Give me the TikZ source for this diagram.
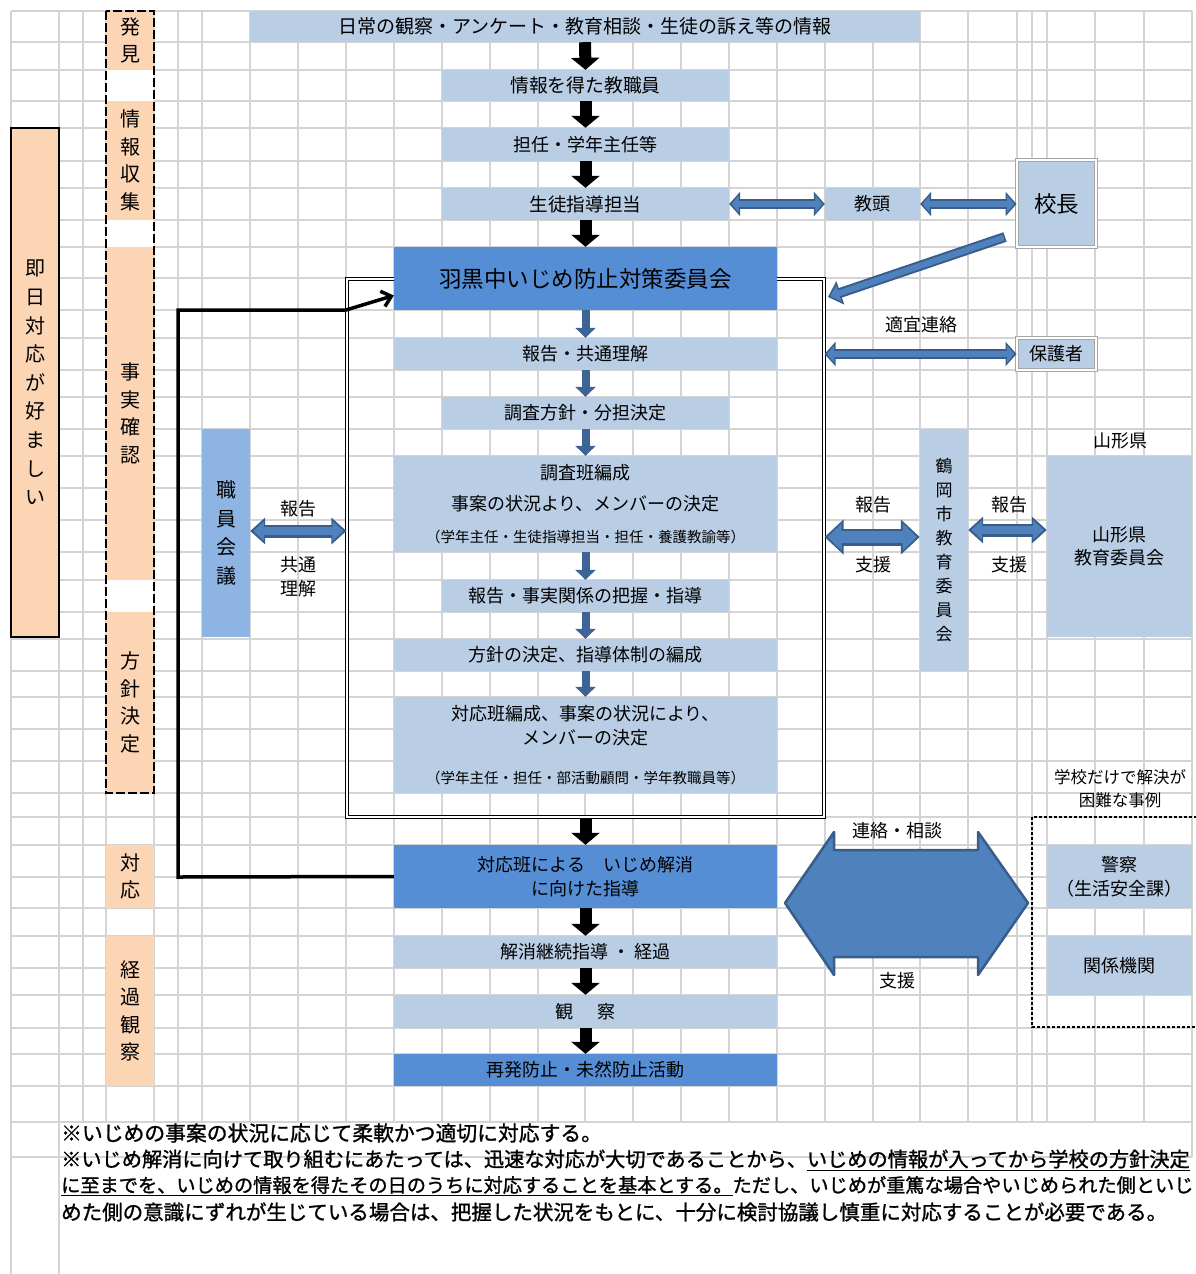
\documentclass[tikz,border=0pt]{standalone}
\usepackage{fontspec}
\setmainfont{Noto Sans CJK JP}
\newfontfamily\notefont{Noto Sans CJK JP}[FakeBold=1.2]
\usetikzlibrary{arrows.meta}
\definecolor{gridgray}{HTML}{D4D4D4}
\definecolor{lightbl}{HTML}{B9CDE5}
\definecolor{midbl}{HTML}{558ED5}
\definecolor{staffbl}{HTML}{8DB4E2}
\definecolor{peach}{HTML}{FCD5B5}
\definecolor{arrfill}{HTML}{4F81BD}
\definecolor{arredge}{HTML}{385D8A}
\definecolor{flowbl}{HTML}{3C6497}
\definecolor{framegray}{HTML}{A6A6A6}
\newcommand{\fsz}[2]{\fontsize{#1}{#2}\selectfont}
\tikzset{
  gridline/.style={draw=gridgray, line width=1.6pt},
  lbox/.style={fill=lightbl, inner sep=0pt, align=center},
  mbox/.style={fill=midbl, inner sep=0pt, align=center},
  wbox/.style={minimum width=383pt},
  nbox/.style={minimum width=287pt},
  stage/.style={fill=peach, minimum width=48pt, inner sep=0pt, align=center, font=\fsz{20}{27.5}},
  grayframe/.style={fill=lightbl, draw=framegray, line width=1pt, double=white, double distance=1.2pt, inner sep=0pt},
  dblframe/.style={draw=black, line width=1.2pt, double=white, double distance=2.4pt, inner sep=0pt},
  note/.style={inner sep=0pt, anchor=west},
  downarr/.style={draw=black, line width=12pt, -{Triangle[length=12pt,width=28pt]}},
  flowarr/.style={draw=flowbl, line width=8pt, -{Triangle[length=10pt,width=20pt]}},
  dblarr/.style={draw=arredge, line width=10pt, {Triangle[length=11pt,width=24pt]}-{Triangle[length=11pt,width=24pt]},
    postaction={draw=arrfill, line width=6pt, {Triangle[length=7pt,width=17pt]}-{Triangle[length=7pt,width=17pt]}, shorten <=2.5pt, shorten >=2.5pt}},
  dblarrm/.style={draw=arredge, line width=13pt, {Triangle[length=15pt,width=26pt]}-{Triangle[length=15pt,width=26pt]},
    postaction={draw=arrfill, line width=8pt, {Triangle[length=11pt,width=19pt]}-{Triangle[length=11pt,width=19pt]}, shorten <=3pt, shorten >=3pt}},
  dblarrw/.style={draw=arredge, line width=17pt, {Triangle[length=19pt,width=34pt]}-{Triangle[length=19pt,width=34pt]},
    postaction={draw=arrfill, line width=12pt, {Triangle[length=14pt,width=26pt]}-{Triangle[length=14pt,width=26pt]}, shorten <=3pt, shorten >=3pt}},
  sglarr/.style={draw=arredge, line width=10pt, -{Triangle[length=13pt,width=24pt]},
    postaction={draw=arrfill, line width=6pt, -{Triangle[length=9pt,width=17pt]}, shorten >=2.5pt, shorten <=1.5pt}},
  bigarr/.style={fill=arrfill, draw=arredge, line width=2.5pt, line join=round}
}
\begin{document}
\begin{tikzpicture}[x=1pt, y=-1pt, font=\fsz{18}{24}]
\useasboundingbox (0,0) rectangle (1196,1274);
\foreach \gx in {83,106,154,178,202,250,298,346,394,442,490,538,585,633,681,729,777,825,873,920,968,1017,1032,1047,1095,1144}
  \draw[gridline] (\gx,11) -- (\gx,1122);
\foreach \gx in {11,59}
  \draw[gridline] (\gx,11) -- (\gx,1274);
\draw[gridline] (1192,11) -- (1192,1157);
\foreach \gy in {11,42,70,101,128,161,188,220,247,278,310,338,370,397,429,456,488,520,552,580,612,639,671,697,729,761,793,817,845,877,908,936,968,995,1028,1054,1086,1122,1157}
  \draw[gridline] (11,\gy) -- (1192,\gy);

\node[draw, line width=1.5pt, fill=peach, minimum width=48pt, minimum height=509pt, inner sep=0pt, align=center, font=\fsz{20}{28.6}] (sameday) at (35,382.5) {即\\日\\対\\応\\が\\好\\ま\\し\\い};
\fill[white] (106,11) rectangle (154,793);
\node[stage, minimum height=59pt] (find) at (130,40.5) {発\\見};
\node[stage, minimum height=119pt] (collect) at (130,160.5) {情\\報\\収\\集};
\node[stage, minimum height=333pt] (confirm) at (130,413.5) {事\\実\\確\\認};
\node[stage, minimum height=181pt] (decide) at (130,702.5) {方\\針\\決\\定};
\draw[line width=2.5pt, dash pattern=on 9pt off 3pt] (106,11) rectangle (154,793);
\node[stage, minimum height=63pt] (respond) at (130,876.5) {対\\応};
\node[stage, minimum height=150pt] (observe) at (130,1011) {経\\過\\観\\察};

\node[dblframe, minimum width=477pt, minimum height=538pt] (frame) at (585.5,548) {};

\node[lbox, minimum width=670pt, minimum height=31pt, font=\fsz{19}{24}] (info) at (585,26.5) {日常の観察・アンケート・教育相談・生徒の訴え等の情報};
\node[lbox, nbox, minimum height=31pt, font=\fsz{18.8}{24}] (teacher) at (585.5,85.5) {情報を得た教職員};
\node[lbox, nbox, minimum height=33pt] (homeroom) at (585.5,144.5) {担任・学年主任等};
\node[lbox, nbox, minimum height=32pt, font=\fsz{18.6}{24}] (guidance) at (585.5,204) {生徒指導担当};
\node[lbox, minimum width=95pt, minimum height=32pt] (vice) at (872.5,204) {教頭};
\node[grayframe, minimum width=79pt, minimum height=87pt, font=\fsz{22.5}{26}] (principal) at (1056.5,203.5) {校長};
\node[mbox, wbox, minimum height=63pt, font=\fsz{22.5}{26}] (committee) at (585.5,278.5) {羽黒中いじめ防止対策委員会};
\node[lbox, wbox, minimum height=32pt] (report) at (585.5,354) {報告・共通理解};
\node[lbox, nbox, minimum height=32pt] (plan) at (585.5,413) {調査方針・分担決定};
\node[lbox, wbox, minimum height=96pt, font=\fsz{18}{31.5}] (survey) at (585.5,504) {調査班編成\\事案の状況より、メンバーの決定\\{\fsz{14.5}{31}（学年主任・生徒指導担当・担任・養護教諭等）}};
\node[lbox, nbox, minimum height=32pt] (facts) at (585.5,596) {報告・事実関係の把握・指導};
\node[lbox, wbox, minimum height=32pt] (policy) at (585.5,655) {方針の決定、指導体制の編成};
\node[lbox, wbox, minimum height=96pt] (team) at (585.5,745) {対応班編成、事案の状況により、\\メンバーの決定\\[15pt]{\fsz{14.5}{24}（学年主任・担任・部活動顧問・学年教職員等）}};
\node[mbox, wbox, minimum height=63pt] (action) at (585.5,876.5) {対応班による　いじめ解消\\に向けた指導};
\node[lbox, wbox, minimum height=32pt] (follow) at (585.5,952) {解消継続指導 ・ 経過};
\node[lbox, wbox, minimum height=33pt] (watch) at (585.5,1011.5) {観\hspace{1.3em}察};
\node[mbox, wbox, minimum height=32pt] (prevent) at (585.5,1070) {再発防止・未然防止活動};

\node[fill=staffbl, minimum width=48pt, minimum height=208pt, inner sep=0pt, align=center, font=\fsz{20}{28.7}] (staff) at (226,533) {職\\員\\会\\議};
\node[lbox, minimum width=48pt, minimum height=242pt, font=\fsz{17}{23.9}] (city) at (944,550) {鶴\\岡\\市\\教\\育\\委\\員\\会};
\node (preflabel) at (1120,441) {山形県};
\node[lbox, minimum width=145pt, minimum height=181pt, font=\fsz{18}{23}] (pref) at (1119.5,546.5) {山形県\\教育委員会};
\node[grayframe, minimum width=79pt, minimum height=32pt] (parent) at (1056.5,354) {保護者};
\node[align=center, font=\fsz{16.5}{23}] (hardcase) at (1120,788.5) {学校だけで解決が\\困難な事例};
\node[lbox, minimum width=145pt, minimum height=63pt] (police) at (1119.5,876.5) {警察\\（生活安全課）};
\node[lbox, minimum width=145pt, minimum height=59pt] (agency) at (1119.5,965.5) {関係機関};
\draw[line width=1.5pt, densely dashed] (1032,817) rectangle (1202,1027);

\foreach \a/\b in {info/teacher, teacher/homeroom, homeroom/guidance, guidance/committee, action/follow, follow/watch, watch/prevent}
  \draw[downarr] (\a.south) -- (\b.north);
\draw[downarr] (frame.south) -- (action.north);
\foreach \a/\b in {committee/report, report/plan, plan/survey, survey/facts, facts/policy, policy/team}
  \draw[flowarr] (\a.south) -- (\b.north);

\draw[dblarr] (guidance.east) -- (vice.west);
\draw[dblarr] (vice.east) -- (principal.west |- vice.east);
\coordinate (pstart) at (1005,237);
\coordinate (fhit) at (828,297);
\draw[sglarr] (pstart) -- (fhit);
\node (timely) at (921,325) {適宜連絡};
\draw[dblarr] (frame.east |- parent.west) -- (parent.west);

\draw[dblarrm] (staff.east |- 0,531) -- (frame.west |- 0,531);
\node (rep1) at (298,509) {報告};
\node[align=center] (share1) at (298,577) {共通\\理解};
\draw[dblarrw] (frame.east |- 0,537) -- (city.west |- 0,537);
\node (rep2) at (873,505) {報告};
\node (sup2) at (873,565) {支援};
\draw[dblarrm] (city.east |- 0,530) -- (pref.west |- 0,530);
\node (rep3) at (1009,505) {報告};
\node (sup3) at (1009,565) {支援};

\filldraw[bigarr] (785,903) -- (834,832) -- (834,850) -- (978,850) -- (978,832) -- (1028,903) -- (978,975) -- (978,957) -- (834,957) -- (834,975) -- cycle;
\node (consult) at (897,831) {連絡・相談};
\node (sup4) at (897,981) {支援};

\draw[line width=3.5pt, -{Straight Barb[length=9pt,width=16pt]}] (action.west) -- (178,877) -- (178,310) -- (346,310) -- ([yshift=-17pt]committee.west);

\node[note, font=\notefont\fsz{20.8}{24}] (note1) at (61,1133) {※いじめの事案の状況に応じて柔軟かつ適切に対応する。};
\node[note, font=\notefont\fsz{20.2}{24}] (note2) at (61,1160) {※いじめ解消に向けて取り組むにあたっては、迅速な対応が大切であることから、\underline{いじめの情報が入ってから学校の方針決定}};
\node[note, font=\notefont\fsz{19.2}{24}] (note3) at (61,1186) {\underline{に至までを、いじめの情報を得たその日のうちに対応することを基本とする。}ただし、いじめが重篤な場合やいじめられた側といじ};
\node[note, font=\notefont\fsz{20.5}{24}] (note4) at (61,1212) {めた側の意識にずれが生じている場合は、把握した状況をもとに、十分に検討協議し慎重に対応することが必要である。};
\end{tikzpicture}
\end{document}
